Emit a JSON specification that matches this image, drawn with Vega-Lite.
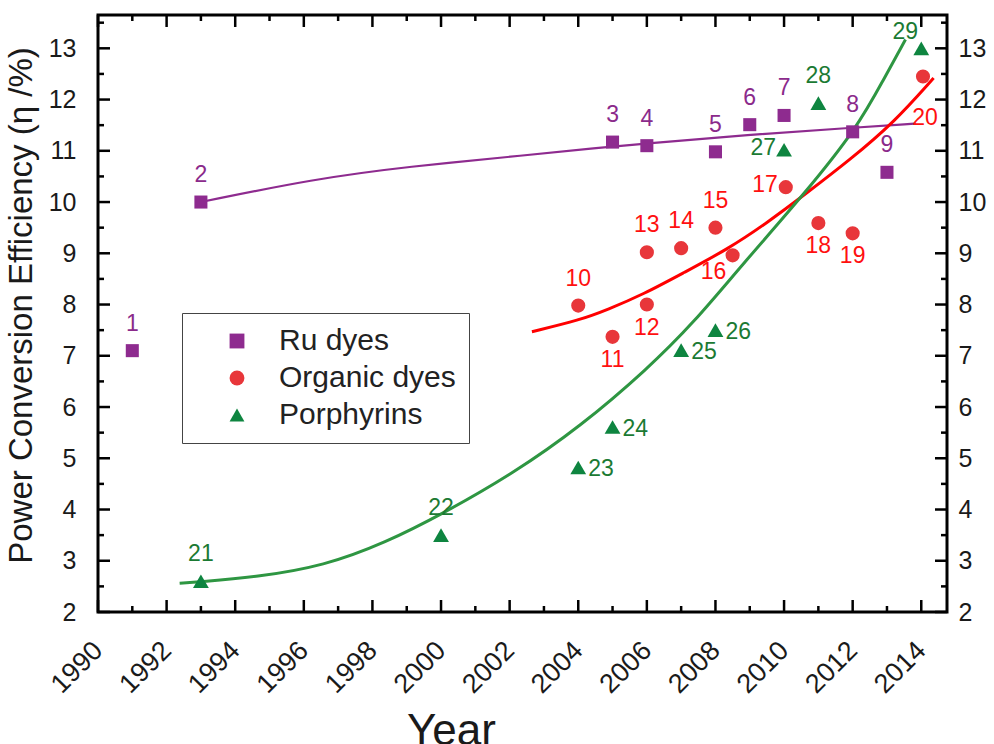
{
  "$schema": "https://vega.github.io/schema/vega-lite/v6.json",
  "width": 849,
  "height": 597,
  "autosize": {"type": "none"},
  "padding": {"left": 98, "top": 15, "right": 47, "bottom": 132},
  "background": "white",
  "config": {
    "view": {"stroke": "#000000", "strokeWidth": 3},
    "font": "Liberation Sans",
    "axis": {
      "domain": false,
      "grid": false,
      "ticks": false,
      "labelFont": "Liberation Sans",
      "labelColor": "#1a1a1a",
      "labelFontSize": 25,
      "titleFont": "Liberation Sans",
      "titleFontWeight": "normal",
      "titleColor": "#1a1a1a"
    }
  },
  "datasets": {
    "points": [
      {"id": 1, "series": "Ru dyes", "year": 1991, "eff": 7.1},
      {"id": 2, "series": "Ru dyes", "year": 1993, "eff": 10.0},
      {"id": 3, "series": "Ru dyes", "year": 2005, "eff": 11.17},
      {"id": 4, "series": "Ru dyes", "year": 2006, "eff": 11.1},
      {"id": 5, "series": "Ru dyes", "year": 2008, "eff": 10.98},
      {"id": 6, "series": "Ru dyes", "year": 2009, "eff": 11.51},
      {"id": 7, "series": "Ru dyes", "year": 2010, "eff": 11.69},
      {"id": 8, "series": "Ru dyes", "year": 2012, "eff": 11.37},
      {"id": 9, "series": "Ru dyes", "year": 2013, "eff": 10.58},
      {"id": 10, "series": "Organic dyes", "year": 2004, "eff": 7.98},
      {"id": 11, "series": "Organic dyes", "year": 2005, "eff": 7.37},
      {"id": 12, "series": "Organic dyes", "year": 2006, "eff": 8.0},
      {"id": 13, "series": "Organic dyes", "year": 2006, "eff": 9.02},
      {"id": 14, "series": "Organic dyes", "year": 2007, "eff": 9.1},
      {"id": 15, "series": "Organic dyes", "year": 2008, "eff": 9.5},
      {"id": 16, "series": "Organic dyes", "year": 2008.5, "eff": 8.96},
      {"id": 17, "series": "Organic dyes", "year": 2010.05, "eff": 10.29},
      {"id": 18, "series": "Organic dyes", "year": 2011, "eff": 9.59},
      {"id": 19, "series": "Organic dyes", "year": 2012, "eff": 9.39},
      {"id": 20, "series": "Organic dyes", "year": 2014.05, "eff": 12.45},
      {"id": 21, "series": "Porphyrins", "year": 1993, "eff": 2.6},
      {"id": 22, "series": "Porphyrins", "year": 2000, "eff": 3.5},
      {"id": 23, "series": "Porphyrins", "year": 2004, "eff": 4.82},
      {"id": 24, "series": "Porphyrins", "year": 2005, "eff": 5.61},
      {"id": 25, "series": "Porphyrins", "year": 2007, "eff": 7.11},
      {"id": 26, "series": "Porphyrins", "year": 2008, "eff": 7.5},
      {"id": 27, "series": "Porphyrins", "year": 2010, "eff": 11.02},
      {"id": 28, "series": "Porphyrins", "year": 2011, "eff": 11.93},
      {"id": 29, "series": "Porphyrins", "year": 2014, "eff": 13.0}
    ],
    "curves": [
      {"series": "Ru dyes", "year": 1993, "eff": 10.0},
      {"series": "Ru dyes", "year": 1996.3, "eff": 10.45},
      {"series": "Ru dyes", "year": 1999, "eff": 10.69},
      {"series": "Ru dyes", "year": 2002.6, "eff": 10.92},
      {"series": "Ru dyes", "year": 2004.4, "eff": 11.05},
      {"series": "Ru dyes", "year": 2006, "eff": 11.14},
      {"series": "Ru dyes", "year": 2008.9, "eff": 11.31},
      {"series": "Ru dyes", "year": 2012, "eff": 11.45},
      {"series": "Ru dyes", "year": 2013.8, "eff": 11.53},
      {"series": "Organic dyes", "year": 2002.65, "eff": 7.47},
      {"series": "Organic dyes", "year": 2004.06, "eff": 7.7},
      {"series": "Organic dyes", "year": 2004.85, "eff": 7.9},
      {"series": "Organic dyes", "year": 2005.9, "eff": 8.2},
      {"series": "Organic dyes", "year": 2007.07, "eff": 8.62},
      {"series": "Organic dyes", "year": 2008.33, "eff": 9.07},
      {"series": "Organic dyes", "year": 2009.5, "eff": 9.59},
      {"series": "Organic dyes", "year": 2010.67, "eff": 10.18},
      {"series": "Organic dyes", "year": 2011.93, "eff": 10.83},
      {"series": "Organic dyes", "year": 2013.2, "eff": 11.55},
      {"series": "Organic dyes", "year": 2014.36, "eff": 12.42},
      {"series": "Porphyrins", "year": 1992.38, "eff": 2.56},
      {"series": "Porphyrins", "year": 1993, "eff": 2.59},
      {"series": "Porphyrins", "year": 1994.6, "eff": 2.68},
      {"series": "Porphyrins", "year": 1996.6, "eff": 2.9},
      {"series": "Porphyrins", "year": 1998.4, "eff": 3.36},
      {"series": "Porphyrins", "year": 2000, "eff": 3.9},
      {"series": "Porphyrins", "year": 2002.12, "eff": 4.71},
      {"series": "Porphyrins", "year": 2004.06, "eff": 5.62},
      {"series": "Porphyrins", "year": 2006, "eff": 6.73},
      {"series": "Porphyrins", "year": 2007.4, "eff": 7.67},
      {"series": "Porphyrins", "year": 2008.73, "eff": 8.74},
      {"series": "Porphyrins", "year": 2010.62, "eff": 10.18},
      {"series": "Porphyrins", "year": 2012.13, "eff": 11.45},
      {"series": "Porphyrins", "year": 2012.9, "eff": 12.39},
      {"series": "Porphyrins", "year": 2013.54, "eff": 13.17}
    ],
    "majorYears": [
      {"year": 1990}, {"year": 1992}, {"year": 1994}, {"year": 1996}, {"year": 1998}, {"year": 2000}, {"year": 2002},
      {"year": 2004}, {"year": 2006}, {"year": 2008}, {"year": 2010}, {"year": 2012}, {"year": 2014}
    ],
    "minorYears": [
      {"year": 1991}, {"year": 1993}, {"year": 1995}, {"year": 1997}, {"year": 1999}, {"year": 2001},
      {"year": 2003}, {"year": 2005}, {"year": 2007}, {"year": 2009}, {"year": 2011}, {"year": 2013}
    ],
    "majorEff": [
      {"eff": 2}, {"eff": 3}, {"eff": 4}, {"eff": 5}, {"eff": 6}, {"eff": 7},
      {"eff": 8}, {"eff": 9}, {"eff": 10}, {"eff": 11}, {"eff": 12}, {"eff": 13}
    ],
    "minorEff": [
      {"eff": 2.5}, {"eff": 3.5}, {"eff": 4.5}, {"eff": 5.5}, {"eff": 6.5}, {"eff": 7.5},
      {"eff": 8.5}, {"eff": 9.5}, {"eff": 10.5}, {"eff": 11.5}, {"eff": 12.5}, {"eff": 13.5}
    ]
  },
  "resolve": {"axis": {"x": "independent", "y": "independent"}},
  "layer": [
    {
      "data": {"name": "curves"},
      "mark": {"type": "line", "interpolate": "basis"},
      "encoding": {
        "x": {
          "field": "year", "type": "quantitative",
          "scale": {"domain": [1990, 2014.75], "nice": false, "zero": false},
          "axis": {
            "orient": "bottom",
            "values": [1990, 1992, 1994, 1996, 1998, 2000, 2002, 2004, 2006, 2008, 2010, 2012, 2014],
            "format": "d",
            "ticks": false,
            "labelAngle": -45,
            "labelAlign": "right",
            "labelBaseline": "middle",
            "labelFontSize": 27,
            "labelPadding": 34,
            "labelFlush": false,
            "labelOverlap": false,
            "title": "Year",
            "titleFontSize": 44,
            "titleX": 353,
            "titleY": 132,
            "titleAlign": "center",
            "titleBaseline": "alphabetic"
          }
        },
        "y": {
          "field": "eff", "type": "quantitative",
          "scale": {"domain": [2, 13.65], "nice": false, "zero": false},
          "axis": {
            "orient": "left",
            "values": [2, 3, 4, 5, 6, 7, 8, 9, 10, 11, 12, 13],
            "ticks": false,
            "labelPadding": 22,
            "labelFlush": false,
            "labelOverlap": false,
            "title": "Power Conversion Efficiency (η /%)",
            "titleFontSize": 33,
            "titlePadding": 10,
            "titleY": 290
          }
        },
        "detail": {"field": "series"},
        "color": {
          "condition": [
            {"test": "datum.series === 'Ru dyes'", "value": "#8E2B8F"},
            {"test": "datum.series === 'Organic dyes'", "value": "#FF0000"}
          ],
          "value": "#2E9642"
        },
        "strokeWidth": {
          "condition": [{"test": "datum.series === 'Ru dyes'", "value": 2.2}],
          "value": 3
        }
      }
    },
    {
      "data": {"name": "majorYears"},
      "mark": {"type": "rule", "color": "#000000", "strokeWidth": 2.5},
      "encoding": {
        "x": {"field": "year", "type": "quantitative", "axis": null},
        "y": {"datum": 2, "type": "quantitative", "axis": null},
        "y2": {"datum": 2.234}
      }
    },
    {
      "data": {"name": "majorYears"},
      "mark": {"type": "rule", "color": "#000000", "strokeWidth": 2.5},
      "encoding": {
        "x": {"field": "year", "type": "quantitative", "axis": null},
        "y": {"datum": 13.65, "type": "quantitative", "axis": null},
        "y2": {"datum": 13.416}
      }
    },
    {
      "data": {"name": "minorYears"},
      "mark": {"type": "rule", "color": "#000000", "strokeWidth": 2.5},
      "encoding": {
        "x": {"field": "year", "type": "quantitative", "axis": null},
        "y": {"datum": 2, "type": "quantitative", "axis": null},
        "y2": {"datum": 2.117}
      }
    },
    {
      "data": {"name": "minorYears"},
      "mark": {"type": "rule", "color": "#000000", "strokeWidth": 2.5},
      "encoding": {
        "x": {"field": "year", "type": "quantitative", "axis": null},
        "y": {"datum": 13.65, "type": "quantitative", "axis": null},
        "y2": {"datum": 13.533}
      }
    },
    {
      "data": {"name": "majorEff"},
      "mark": {"type": "rule", "color": "#000000", "strokeWidth": 2.5},
      "encoding": {
        "y": {"field": "eff", "type": "quantitative", "axis": null},
        "x": {"datum": 1990, "type": "quantitative", "axis": null},
        "x2": {"datum": 1990.35}
      }
    },
    {
      "data": {"name": "majorEff"},
      "mark": {"type": "rule", "color": "#000000", "strokeWidth": 2.5},
      "encoding": {
        "y": {"field": "eff", "type": "quantitative", "axis": null},
        "x": {"datum": 2014.75, "type": "quantitative", "axis": null},
        "x2": {"datum": 2014.4}
      }
    },
    {
      "data": {"name": "minorEff"},
      "mark": {"type": "rule", "color": "#000000", "strokeWidth": 2.5},
      "encoding": {
        "y": {"field": "eff", "type": "quantitative", "axis": null},
        "x": {"datum": 1990, "type": "quantitative", "axis": null},
        "x2": {"datum": 1990.175}
      }
    },
    {
      "data": {"name": "minorEff"},
      "mark": {"type": "rule", "color": "#000000", "strokeWidth": 2.5},
      "encoding": {
        "y": {"field": "eff", "type": "quantitative", "axis": null},
        "x": {"datum": 2014.75, "type": "quantitative", "axis": null},
        "x2": {"datum": 2014.575}
      }
    },
    {
      "data": {"name": "points"},
      "mark": {"type": "point", "filled": true, "opacity": 1},
      "encoding": {
        "x": {"field": "year", "type": "quantitative", "axis": null},
        "y": {
          "field": "eff", "type": "quantitative",
          "axis": {
            "orient": "right",
            "values": [2, 3, 4, 5, 6, 7, 8, 9, 10, 11, 12, 13],
            "ticks": false,
            "labelPadding": 11,
            "labelFlush": false,
            "labelOverlap": false,
            "title": null
          }
        },
        "color": {
          "field": "series", "type": "nominal",
          "scale": {"domain": ["Ru dyes", "Organic dyes", "Porphyrins"], "range": ["#8E2B8F", "#E8363A", "#0E8540"]},
          "legend": {
            "title": null,
            "orient": "none",
            "legendX": 84,
            "legendY": 298,
            "labelFontSize": 30,
            "labelFont": "Liberation Sans",
            "labelColor": "#222222",
            "labelLimit": 400,
            "symbolSize": 220,
            "symbolOffset": 27,
            "labelOffset": 27,
            "padding": 13,
            "rowPadding": 7,
            "strokeColor": "#444444",
            "fillColor": "white"
          }
        },
        "shape": {
          "field": "series", "type": "nominal",
          "scale": {"domain": ["Ru dyes", "Organic dyes", "Porphyrins"], "range": ["square", "circle", "triangle-up"]},
          "legend": {
            "title": null,
            "orient": "none",
            "legendX": 84,
            "legendY": 298,
            "labelFontSize": 30,
            "labelFont": "Liberation Sans",
            "labelColor": "#222222",
            "labelLimit": 400,
            "symbolSize": 220,
            "symbolOffset": 27,
            "labelOffset": 27,
            "padding": 13,
            "rowPadding": 7,
            "strokeColor": "#444444",
            "fillColor": "white"
          }
        },
        "size": {
          "condition": [
            {"test": "datum.series === 'Ru dyes'", "value": 170},
            {"test": "datum.series === 'Organic dyes'", "value": 200}
          ],
          "value": 250
        }
      }
    },
    {
      "data": {"name": "points"},
      "transform": [{"filter": {"field": "id", "oneOf": [1, 2, 3, 4, 5, 6, 7, 8, 9, 10, 13, 14, 15, 21, 22, 28]}}],
      "mark": {"type": "text", "fontSize": 23, "font": "Liberation Sans", "align": "center", "baseline": "middle", "dy": -27},
      "encoding": {
        "x": {"field": "year", "type": "quantitative", "axis": null},
        "y": {"field": "eff", "type": "quantitative", "axis": null},
        "text": {"field": "id", "type": "nominal"},
        "color": {
          "condition": [
            {"test": "datum.series === 'Ru dyes'", "value": "#8B2A8B"},
            {"test": "datum.series === 'Organic dyes'", "value": "#FF1010"}
          ],
          "value": "#1B7A33"
        }
      }
    },
    {
      "data": {"name": "points"},
      "transform": [{"filter": {"field": "id", "oneOf": [11, 12, 18, 19]}}],
      "mark": {"type": "text", "fontSize": 23, "font": "Liberation Sans", "align": "center", "baseline": "middle", "dy": 23},
      "encoding": {
        "x": {"field": "year", "type": "quantitative", "axis": null},
        "y": {"field": "eff", "type": "quantitative", "axis": null},
        "text": {"field": "id", "type": "nominal"},
        "color": {"value": "#FF1010"}
      }
    },
    {
      "data": {"name": "points"},
      "transform": [{"filter": {"field": "id", "oneOf": [20]}}],
      "mark": {"type": "text", "fontSize": 23, "font": "Liberation Sans", "align": "center", "baseline": "middle", "dx": 2, "dy": 42},
      "encoding": {
        "x": {"field": "year", "type": "quantitative", "axis": null},
        "y": {"field": "eff", "type": "quantitative", "axis": null},
        "text": {"field": "id", "type": "nominal"},
        "color": {"value": "#FF1010"}
      }
    },
    {
      "data": {"name": "points"},
      "transform": [{"filter": {"field": "id", "oneOf": [16]}}],
      "mark": {"type": "text", "fontSize": 23, "font": "Liberation Sans", "align": "center", "baseline": "middle", "dx": -19, "dy": 17},
      "encoding": {
        "x": {"field": "year", "type": "quantitative", "axis": null},
        "y": {"field": "eff", "type": "quantitative", "axis": null},
        "text": {"field": "id", "type": "nominal"},
        "color": {"value": "#FF1010"}
      }
    },
    {
      "data": {"name": "points"},
      "transform": [{"filter": {"field": "id", "oneOf": [17, 27]}}],
      "mark": {"type": "text", "fontSize": 23, "font": "Liberation Sans", "align": "right", "baseline": "middle", "dx": -8, "dy": -2},
      "encoding": {
        "x": {"field": "year", "type": "quantitative", "axis": null},
        "y": {"field": "eff", "type": "quantitative", "axis": null},
        "text": {"field": "id", "type": "nominal"},
        "color": {
          "condition": [{"test": "datum.series === 'Organic dyes'", "value": "#FF1010"}],
          "value": "#1B7A33"
        }
      }
    },
    {
      "data": {"name": "points"},
      "transform": [{"filter": {"field": "id", "oneOf": [23, 24, 25, 26]}}],
      "mark": {"type": "text", "fontSize": 23, "font": "Liberation Sans", "align": "left", "baseline": "middle", "dx": 10, "dy": 2},
      "encoding": {
        "x": {"field": "year", "type": "quantitative", "axis": null},
        "y": {"field": "eff", "type": "quantitative", "axis": null},
        "text": {"field": "id", "type": "nominal"},
        "color": {"value": "#1B7A33"}
      }
    },
    {
      "data": {"name": "points"},
      "transform": [{"filter": {"field": "id", "oneOf": [29]}}],
      "mark": {"type": "text", "fontSize": 23, "font": "Liberation Sans", "align": "center", "baseline": "middle", "dx": -16, "dy": -16},
      "encoding": {
        "x": {"field": "year", "type": "quantitative", "axis": null},
        "y": {"field": "eff", "type": "quantitative", "axis": null},
        "text": {"field": "id", "type": "nominal"},
        "color": {"value": "#1B7A33"}
      }
    }
  ]
}
